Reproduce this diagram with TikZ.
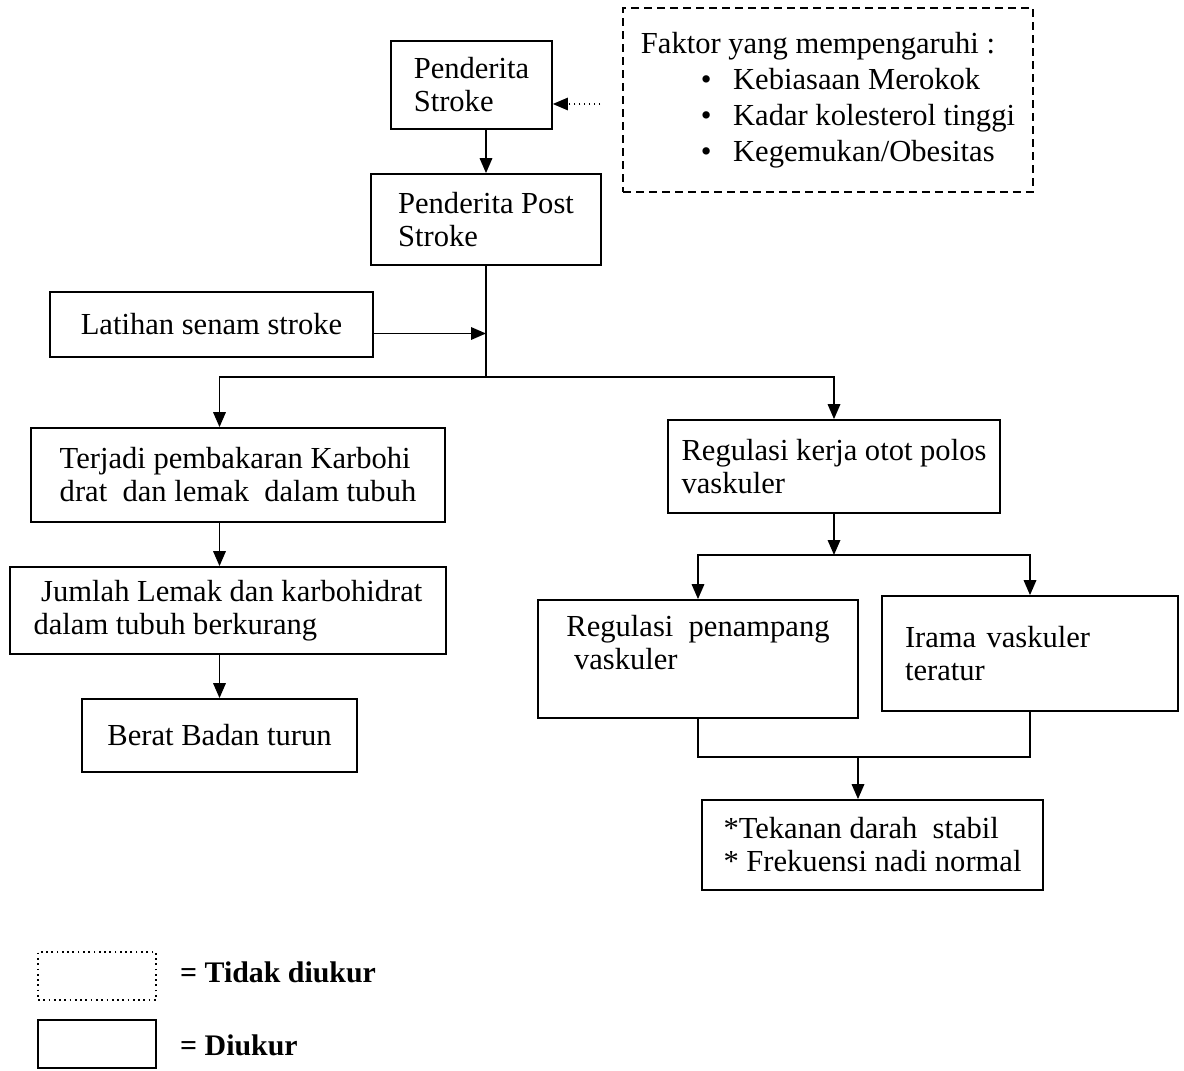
\documentclass[tikz,border=0pt]{standalone}
\usepackage{fontspec}
\setmainfont{Liberation Serif}
\usetikzlibrary{arrows.meta, positioning, calc}
\tikzset{
    % Box styles - sharp corners
    box/.style={
        rectangle,
        draw=black,
        line width=1pt,
        align=left,
        inner sep=0pt
    },
    factorbox/.style={
        rectangle,
        draw=black,
        line width=1pt,
        dash pattern=on 0.16cm off 0.1cm,
        align=left,
        inner sep=0pt
    },
    legdotted/.style={
        rectangle,
        draw=black,
        line width=1pt,
        dotted,
        minimum width=2.36cm,
        minimum height=0.96cm
    },
    legsolid/.style={
        rectangle,
        draw=black,
        line width=1pt,
        minimum width=2.36cm,
        minimum height=0.96cm
    },
    legtext/.style={
        anchor=west,
        font=\fontsize{17}{19}\selectfont\bfseries
    },
    % Arrow styles - straight lines only
    line/.style={
        line width=1pt,
        draw=black
    },
    arrow/.style={
        -{Triangle[length=0.3cm,width=0.25cm]},
        line width=1pt,
        draw=black
    },
    dotarrow/.style={
        -{Triangle[length=0.3cm,width=0.25cm]},
        line width=0.8pt,
        draw=black,
        dotted
    }
}

\begin{document}
\begin{tikzpicture}[x=0.02cm, y=-0.02cm, font=\fontsize{17.4}{18.8}\selectfont]
    \useasboundingbox (0,0) rectangle (1184,1071);

    % Top
    \node[box, minimum width=3.22cm, minimum height=1.76cm] (ps) at (471.5,85) {Penderita\\Stroke};
    \node[box, minimum width=4.6cm, minimum height=1.82cm] (pps) at (486,219.5) {Penderita Post\\Stroke};
    \node[factorbox, minimum width=8.2cm, minimum height=3.68cm, font=\fontsize{17.4}{20.5}\selectfont] (fak) at (828,100)
        {Faktor yang mempengaruhi :\\
         \hspace*{1.2cm}\textbullet\hspace{0.43cm}Kebiasaan Merokok\\
         \hspace*{1.2cm}\textbullet\hspace{0.43cm}Kadar kolesterol tinggi\\
         \hspace*{1.2cm}\textbullet\hspace{0.43cm}Kegemukan/Obesitas};
    \node[box, minimum width=6.46cm, minimum height=1.3cm] (lat) at (211.5,324.5) {Latihan senam stroke};

    % Left branch
    \node[box, minimum width=8.28cm, minimum height=1.88cm] (kar) at (238,475) {Terjadi pembakaran Karbohi\\drat\ \ dan lemak\ \ dalam tubuh};
    \node[box, minimum width=8.72cm, minimum height=1.74cm] (jum) at (228,610.5) {\ Jumlah Lemak dan karbohidrat\\dalam tubuh berkurang};
    \node[box, minimum width=5.5cm, minimum height=1.46cm, align=center] (brt) at (219.5,735.5) {Berat Badan turun};

    % Right branch
    \node[box, minimum width=6.64cm, minimum height=1.86cm] (reg) at (834,466.5) {Regulasi kerja otot polos\\vaskuler\hspace{2.9cm}};
    \node[box, minimum width=6.4cm, minimum height=2.36cm] (pen) at (698,659) {Regulasi\ \ penampang\\\ vaskuler\\\mbox{}};
    \node[box, inner xsep=0.46cm, text width=5cm, minimum height=2.3cm] (ira) at (1030,653.5) {Irama vaskuler\\teratur};
    \node[box, minimum width=6.82cm, minimum height=1.8cm] (ttk) at (872.5,845) {*Tekanan darah\ \ stabil\\* Frekuensi nadi normal};

    % Junctions
    \coordinate (j1) at (486,377);
    \coordinate (j2) at (834,555);
    \coordinate (j3) at (858,757);
    \coordinate (d0) at (600,104);

    % Connectors
    \draw[dotarrow] (d0) -- (ps.east |- d0);
    \draw[arrow] (ps.south -| pps.north) -- (pps.north);
    \draw[line] (pps.south) -- (j1);
    \draw[arrow] ([yshift=-0.18cm]lat.east) -- ([yshift=-0.18cm]lat.east -| j1);
    \draw[arrow] (j1) -| (kar.north -| brt.north);
    \draw[arrow] (j1) -| (reg.north);
    \draw[arrow] (kar.south -| brt.north) -- (jum.north -| brt.north);
    \draw[arrow] (jum.south -| brt.north) -- (brt.north);
    \draw[arrow] (reg.south) -- (j2);
    \draw[arrow] (j2) -| (pen.north);
    \draw[arrow] (j2) -| (ira.north);
    \draw[line] (pen.south) |- (j3) -| (ira.south);
    \draw[arrow] (j3) -- (j3 |- ttk.north);

    % Legend
    \node[legdotted] (ld) at (97,976) {};
    \node[legtext] (ldt) at (174,972) {= Tidak diukur};
    \node[legsolid] (ls) at (97,1044) {};
    \node[legtext] (lst) at (174,1045) {= Diukur};
\end{tikzpicture}
\end{document}
